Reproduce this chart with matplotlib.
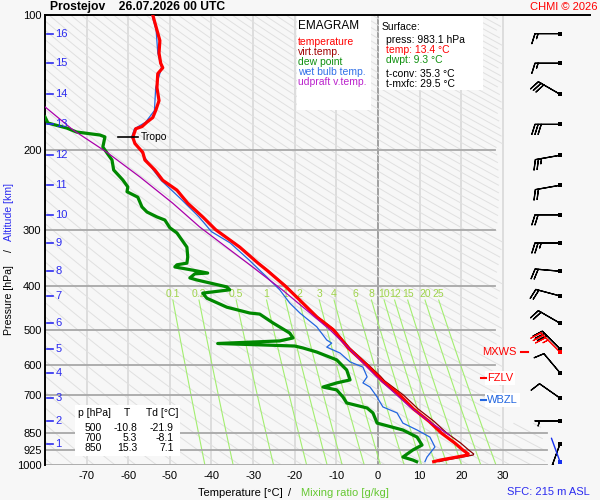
import numpy as np
import matplotlib
matplotlib.use("Agg")
import matplotlib.pyplot as plt
import matplotlib.transforms as mtransforms
from matplotlib.patches import Rectangle

plt.rcParams['font.family'] = ['Liberation Sans', 'DejaVu Sans']

# ---------------- data ----------------
station = "Prostejov"
run_time = "26.07.2026 00 UTC"

temp_p = [100, 108, 114, 121.5, 128, 131, 135, 145, 155, 163, 169, 173, 177, 179, 187, 193, 202, 210, 221, 233,
          245, 262, 281, 300, 328, 356, 369, 400, 430, 469, 500, 550, 600, 635, 650, 700, 750, 800, 850, 894,
          926, 945, 950, 960, 975, 983.1]
temp_t = [-54.1, -53.1, -52.4, -52.6, -52.2, -51.7, -52.9, -53.1, -52.6, -53.4, -54.1, -55.5, -56.7, -58.2, -58.9,
          -58.4, -56.5, -56.0, -53.6, -51.7, -48.3, -45.7, -42.1, -39.0, -33.2, -28.8, -26.7, -22.3, -18.8, -14.7,
          -10.8, -7.1, -2.7, 0.0, 1.0, 5.3, 8.5, 12.3, 15.3, 18.5, 20.4, 21.7, 21.6, 19.0, 15.0, 13.4]
virt_t = [-54.1, -53.1, -52.4, -52.6, -52.2, -51.7, -52.9, -53.1, -52.6, -53.4, -54.1, -55.5, -56.7, -58.2, -58.9,
          -58.4, -56.5, -56.0, -53.6, -51.7, -48.3, -45.7, -42.0, -38.9, -33.1, -28.7, -26.5, -22.1, -18.6, -14.4,
          -10.5, -6.7, -2.2, 0.6, 1.6, 6.2, 9.6, 13.5, 16.6, 19.9, 21.8, 23.0, 22.9, 20.4, 16.4, 14.7]

dewp_p = [168.5, 173.8, 178.3, 182, 184.8, 186.6, 196.5, 202.6, 210, 221, 232.6, 241, 247, 254, 267, 274, 281,
          285.5, 297, 305, 328, 345, 356, 359, 363, 369, 374.5, 376, 384, 388, 402, 408, 415, 426, 446, 459.5,
          462, 483.5, 509, 522, 530, 537, 544, 549.5, 561, 584, 615, 647, 657, 671, 681, 706, 728, 747, 766,
          807, 836, 867, 903, 926, 960, 975, 983.1]
dewp_t = [-80.0, -79.3, -74.8, -72.4, -66.8, -65.6, -66.1, -65.1, -63.9, -63.5, -61.3, -60.1, -60.3, -57.7, -56.7,
          -55.5, -53.1, -51.2, -50.0, -48.3, -45.9, -45.7, -45.9, -48.3, -48.8, -44.5, -40.9, -44.0, -45.2, -43.5,
          -36.3, -35.6, -42.1, -41.1, -36.3, -30.8, -28.4, -25.2, -21.2, -20.4, -23.6, -38.5, -20.0, -18.0, -14.7,
          -9.9, -7.5, -6.7, -9.9, -13.2, -9.9, -8.4, -7.5, -2.6, -1.2, -0.2, 6.0, 9.4, 10.6, 8.4, 6.0, 8.4, 9.3]

wetb_p = [100, 108, 121.5, 131, 145, 163, 173, 179, 187, 202, 221, 233, 255, 281, 303, 321, 350, 380, 408, 436.5,
          459.5, 493, 527.5, 536, 547, 564, 590, 606, 637, 657, 671, 706, 717, 743, 766, 807, 836, 867, 912, 960,
          983.1]
wetb_t = [-54.3, -53.3, -52.9, -52.0, -53.4, -53.7, -55.8, -58.5, -59.2, -56.8, -54.0, -52.1, -47.6, -43.0, -40.0,
          -35.5, -31.0, -27.0, -23.6, -21.2, -18.75, -14.7, -12.3, -11.1, -12.3, -9.1, -6.7, -3.6, -2.6, -3.6,
          -1.9, -0.2, 0.2, 1.2, 4.6, 6.0, 9.4, 12.5, 13.7, 11.8, 11.3]

updr_p = [160, 180, 202, 229, 262, 296, 359, 408, 459.5, 501, 547, 637, 743, 800, 860]
updr_t = [-80.0, -73.3, -65.1, -57.2, -49.3, -42.8, -30.8, -23.0, -16.3, -11.5, -7.3, -0.3, 7.7, 12.3, 17.3]

alt_km = [1, 2, 3, 4, 5, 6, 7, 8, 9, 10, 11, 12, 13, 14, 15, 16]
alt_p = [898, 798, 710, 624, 552, 484, 421, 371, 321, 278, 239, 205, 175, 150, 128, 110]
wind_dir = [200, 270, 305, 320, 315, 300, 285, 275, 270, 270, 260, 260, 270, 300, 270, 270]
wind_spd = [15, 5, 10, 10, 30, 20, 20, 20, 25, 20, 20, 25, 30, 30, 15, 15]

sfc_press = 983.1
sfc_temp = 13.4
sfc_dwpt = 9.3
sfc_wdir = 340
sfc_alt = 215
t_conv = 35.3
t_mxfc = 29.5

mxws_p, mxws_dir, mxws_spd = 561, 315, 35
fzlv_p = 641
wbzl_p = 717
tropo_p, tropo_t = 187, -58.9

pres_ticks = [100, 200, 300, 400, 500, 600, 700, 850, 925, 1000]
temp_ticks = [-70, -60, -50, -40, -30, -20, -10, 0, 10, 20, 30]
mix_ratios = [0.1, 0.2, 0.5, 1, 1.5, 2, 3, 4, 6, 8, 10, 12, 15, 20, 25]

tab_p = [500, 700, 850]
tab_t = [-10.8, 5.3, 15.3]
tab_td = [-21.9, -8.1, 7.1]

# ---------------- layout helpers ----------------
W, H = 600, 500
BG = '#f7f7f7'
BLUE = '#2b2bf0'
PX_PER_DEG = 4.16
X0_PX = 378.0


def fx(x):
    return x / W


def fy(y):
    return 1 - y / H


def tpx(x):
    return (x - X0_PX) / PX_PER_DEG


fig = plt.figure(figsize=(6, 5), dpi=100, facecolor=BG)
ax = fig.add_axes([fx(45), fy(465), (590 - 45) / W, 450 / H], facecolor=BG)
ax.set_yscale('log')
ax.set_ylim(1000, 100)
ax.set_xlim(-80, tpx(590))
for s in ['right', 'bottom']:
    ax.spines[s].set_visible(False)
for s in ['top', 'left']:
    ax.spines[s].set_linewidth(1.4)
    ax.spines[s].set_color('black')
ax.set_yticks(pres_ticks)
ax.set_yticklabels([str(p) for p in pres_ticks])
ax.yaxis.set_minor_locator(matplotlib.ticker.NullLocator())
ax.set_xticks(temp_ticks)
ax.set_xticklabels([str(t) for t in temp_ticks])
ax.tick_params(axis='y', length=0, pad=2.5, labelsize=8)
ax.tick_params(axis='x', length=0, pad=4.5, labelsize=8)

# isotherms
for t in temp_ticks:
    ax.plot([t, t], [100, 1000], color='#888888' if t == 0 else '#d6d6d6',
            lw=1.1, zorder=1)
# isobars
for p in pres_ticks[1:]:
    xmax = tpx(547) if p >= 850 else tpx(495)
    ax.plot([-80, xmax], [p, p], color='#a8a8a8', lw=1.3, zorder=1.5)

# dry adiabats
pp = np.geomspace(100, 1000, 120)
lim = np.where(pp >= 800, tpx(547), tpx(503))
for th in np.arange(190, 600, 5):
    tt = th * (pp / 1000.0) ** 0.286 - 273.15
    tt = np.where(tt <= lim, tt, np.nan)
    ax.plot(tt, pp, color='#e0e0e0', lw=0.7, zorder=1)


def td_from_w(w, p):
    e = w * p / (622.0 + w)
    a = np.log(e / 6.112)
    return 243.5 * a / (17.67 - a)


pm = np.geomspace(430, 1000, 60)
for w in mix_ratios:
    ax.plot(td_from_w(w, pm), pm, color='#a3ee70', lw=0.8, zorder=1.2)
    lab = ('%g' % w) if w < 1 else ('%d' % w)
    ax.text(td_from_w(w, 430), 416, lab, color='#9fd44a', fontsize=7.5,
            ha='center', va='center', zorder=2)

# profiles
ax.plot(virt_t, temp_p, color='#8b0000', lw=0.9, zorder=3)
ax.plot(wetb_t, wetb_p, color='#2266e0', lw=0.9, zorder=3)
ax.plot(dewp_t, dewp_p, color='#008800', lw=2.3, zorder=4)
ax.plot(temp_t, temp_p, color='#ff0000', lw=2.3, zorder=5)
ax.plot(updr_t, updr_p, color='#aa00aa', lw=0.9, zorder=6)

# tropopause
ax.plot([tropo_t - 3.6, tropo_t + 1.2], [tropo_p, tropo_p], color='black', lw=1.2, zorder=7)
ax.text(tropo_t + 1.9, tropo_p, 'Tropo', fontsize=7.5, va='center', ha='left', zorder=7)

# altitude scale
bt = mtransforms.blended_transform_factory(ax.transAxes, ax.transData)
for km, p in zip(alt_km, alt_p):
    ax.plot([2 / 545, 8 / 545], [p, p], transform=bt, color=BLUE, lw=1.2, zorder=7, clip_on=False)
    ax.text(10.5 / 545, p, str(km), transform=bt, color=BLUE, fontsize=8,
            va='center', ha='left', zorder=7)

# wind barbs
xb = tpx(560)
BL = 6.0
wd = np.radians(wind_dir)
u = -np.array(wind_spd) * np.sin(wd)
v = -np.array(wind_spd) * np.cos(wd)
ax.barbs([xb] * len(alt_p), alt_p, u, v, length=BL, color='black', linewidth=0.9, zorder=8,
         flip_barb=True)
ax.scatter([xb] * len(alt_p), alt_p, marker='s', s=6, color='black', zorder=9, linewidths=0)
md = np.radians(mxws_dir)
ax.barbs([xb], [mxws_p], [-mxws_spd * np.sin(md)], [-mxws_spd * np.cos(md)], length=BL * 1.04,
         barbcolor='red', flagcolor='none', linewidth=0.8, zorder=8, flip_barb=True)
ax.scatter([xb], [mxws_p], marker='s', s=6, color='red', zorder=9, linewidths=0)
sd = np.radians(sfc_wdir)
L = 18
ax.annotate('', xy=(xb, sfc_press), xytext=(L * np.sin(sd), L * np.cos(sd)), textcoords='offset points',
            arrowprops=dict(arrowstyle='-', color='#1530ee', lw=1, shrinkA=0, shrinkB=0), zorder=8)
ax.scatter([xb], [sfc_press], marker='s', s=8, color='#1530ee', zorder=9, linewidths=0)

# level markers
ax.text(tpx(517), mxws_p, 'MXWS', color='red', fontsize=8, ha='right', va='center', zorder=8)
ax.plot([tpx(521), tpx(528)], [mxws_p, mxws_p], color='red', lw=1.5, zorder=8)
ax.text(tpx(487), fzlv_p, 'FZLV', color='red', fontsize=8, ha='left', va='center', zorder=8,
        bbox=dict(facecolor='white', edgecolor='none', pad=1.5))
ax.plot([tpx(481), tpx(486)], [fzlv_p, fzlv_p], color='red', lw=1.5, zorder=9)
ax.text(tpx(487), wbzl_p, 'WBZL', color='#2266e0', fontsize=8, ha='left', va='center', zorder=8,
        bbox=dict(facecolor='white', edgecolor='none', pad=1.5))
ax.plot([tpx(481), tpx(486)], [wbzl_p, wbzl_p], color='#2266e0', lw=1.5, zorder=9)


# white boxes
def box(x0, y0, x1, y1):
    fig.add_artist(Rectangle((fx(x0), fy(y1)), (x1 - x0) / W, (y1 - y0) / H,
                             transform=fig.transFigure, facecolor='white', edgecolor='none', zorder=1))


box(297, 16, 371, 110)
box(379, 16, 483, 90)
box(75, 405, 180, 456)

FS = 7.5
fig.text(fx(298), fy(26), 'EMAGRAM', fontsize=8.5, va='center', zorder=3)
legend_items = [('temperature', '#ff0000'), ('virt.temp.', '#a00000'), ('dew point', '#109010'),
                ('wet bulb temp.', '#3070e8'), ('udpraft v.temp.', '#bb22cc')]
for i, (lab, c) in enumerate(legend_items):
    fig.text(fx(298), fy(42 + 10 * i), lab, color=c, fontsize=FS, va='center', zorder=3)

fig.text(fx(382), fy(27), 'Surface:', fontsize=FS, va='center', zorder=3)
fig.text(fx(386), fy(40), f'press: {sfc_press} hPa', fontsize=FS, va='center', zorder=3)
fig.text(fx(386), fy(50), f'temp: {sfc_temp} °C', fontsize=FS, va='center', color='#ff0000', zorder=3)
fig.text(fx(386), fy(60), f'dwpt: {sfc_dwpt} °C', fontsize=FS, va='center', color='#109010', zorder=3)
fig.text(fx(386), fy(74), f't-conv: {t_conv} °C', fontsize=FS, va='center', zorder=3)
fig.text(fx(386), fy(84), f't-mxfc: {t_mxfc} °C', fontsize=FS, va='center', zorder=3)

fig.text(fx(78), fy(413), 'p [hPa]', fontsize=FS, va='center', zorder=3)
fig.text(fx(127), fy(413), 'T', fontsize=FS, va='center', ha='center', zorder=3)
fig.text(fx(146), fy(413), 'Td [°C]', fontsize=FS, va='center', zorder=3)
for i, (p, t, td) in enumerate(zip(tab_p, tab_t, tab_td)):
    y = 428 + 10 * i
    fig.text(fx(102), fy(y), str(p), fontsize=FS, va='center', ha='right', zorder=3)
    fig.text(fx(137), fy(y), f'{t:.1f}', fontsize=FS, va='center', ha='right', zorder=3)
    fig.text(fx(174), fy(y), f'{td:.1f}', fontsize=FS, va='center', ha='right', zorder=3)

# titles / labels
fig.text(fx(50), fy(7), f'{station}    {run_time}', fontsize=8.7, fontweight='bold', va='center')
fig.text(fx(597), fy(7), 'CHMI © 2026', fontsize=8, color='#ff0000', va='center', ha='right')
fig.text(fx(590), fy(492), f'SFC: {sfc_alt} m ASL', fontsize=8, color=BLUE, va='center', ha='right')
fig.text(fx(240), fy(493), 'Temperature [°C]', fontsize=8, va='center', ha='center')
fig.text(fx(290), fy(493), '/', fontsize=8, va='center', ha='center')
fig.text(fx(345), fy(493), 'Mixing ratio [g/kg]', fontsize=8, va='center', ha='center', color='#66c833')
fig.text(fx(9), fy(300), 'Pressure [hPa]', fontsize=7.6, va='center', ha='center', rotation=90)
fig.text(fx(9), fy(251), '/', fontsize=7.6, va='center', ha='center', rotation=90)
fig.text(fx(9), fy(212), 'Altitude [km]', fontsize=7.6, va='center', ha='center', rotation=90, color=BLUE)

fig.savefig('out.png', dpi=100, facecolor=BG)
